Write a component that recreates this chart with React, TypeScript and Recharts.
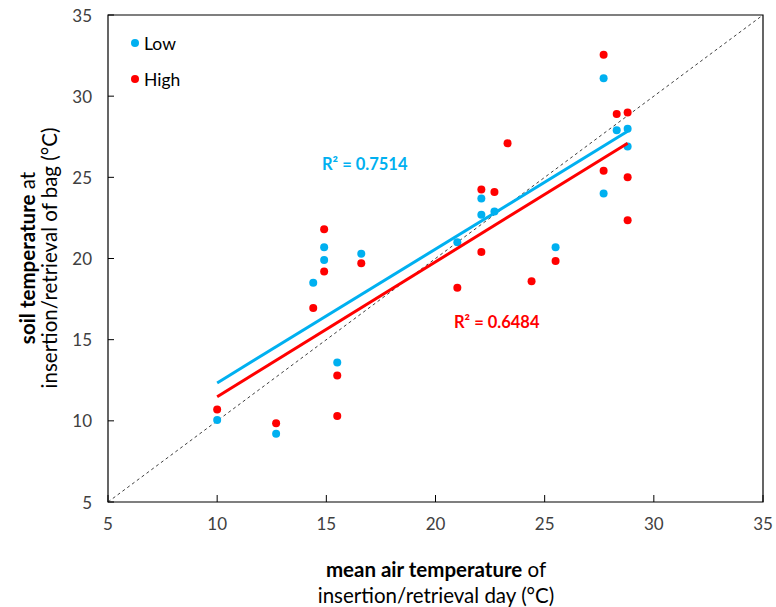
import React from "react";
import { ScatterChart, Scatter, XAxis, YAxis, ReferenceLine, ReferenceArea } from "recharts";

// mean air temperature (x) vs soil temperature (y)
const lowX = [10.0, 12.7, 14.4, 14.9, 14.9, 15.5, 16.6, 21.0, 22.1, 22.1, 22.7, 25.5, 27.7, 27.7, 28.3, 28.8, 28.8];
const lowY = [10.05, 9.2, 18.5, 20.7, 19.9, 13.6, 20.3, 21.0, 23.7, 22.7, 22.9, 20.7, 31.1, 24.0, 27.9, 28.0, 26.9];

const highX = [10.0, 12.7, 14.4, 14.9, 14.9, 15.5, 15.5, 16.6, 21.0, 22.1, 22.1, 22.7, 23.3, 24.4, 25.5, 27.7, 27.7, 28.3, 28.8, 28.8, 28.8];
const highY = [10.7, 9.85, 16.95, 21.8, 19.2, 12.8, 10.3, 19.7, 18.2, 24.25, 20.4, 24.1, 27.1, 18.6, 19.85, 32.55, 25.4, 28.9, 29.0, 25.0, 22.35];

const axisTicks = [5, 10, 15, 20, 25, 30, 35];
const seriesNames = ["Low", "High"];
const r2Labels = ["R² = 0.7514", "R² = 0.6484"];

const BLUE = "#00B0F0";
const RED = "#FF0000";
const FONT = "Lato, 'Open Sans', sans-serif";

const toPoints = (xs: number[], ys: number[]) => xs.map((x, i) => ({ x, y: ys[i] }));

// least squares trend line over the range of the series
function linearFit(xs: number[], ys: number[]) {
  const n = xs.length;
  const mx = xs.reduce((a, b) => a + b, 0) / n;
  const my = ys.reduce((a, b) => a + b, 0) / n;
  let sxx = 0;
  let sxy = 0;
  xs.forEach((x, i) => {
    sxx += (x - mx) * (x - mx);
    sxy += (x - mx) * (ys[i] - my);
  });
  const slope = sxy / sxx;
  const icpt = my - slope * mx;
  const x0 = Math.min(...xs);
  const x1 = Math.max(...xs);
  return [
    { x: x0, y: icpt + slope * x0 },
    { x: x1, y: icpt + slope * x1 },
  ];
}

const lowData = toPoints(lowX, lowY);
const highData = toPoints(highX, highY);
const lowFit = linearFit(lowX, lowY);
const highFit = linearFit(highX, highY);

const YTick = ({ x, y, payload }: any) => (
  <g>
    <line x1={x} x2={x + 6} y1={y} y2={y} stroke="#000" />
    <text x={x - 16} y={y} textAnchor="end" dominantBaseline="central" fontSize={17} fill="#404040" fontFamily={FONT}>
      {payload.value}
    </text>
  </g>
);

const XTick = ({ x, y, payload }: any) => (
  <g>
    <line x1={x} x2={x} y1={y} y2={y - 7} stroke="#000" />
    <text x={x} y={y + 21} textAnchor="middle" dominantBaseline="central" fontSize={17} fill="#404040" fontFamily={FONT}>
      {payload.value}
    </text>
  </g>
);

const dot = (color: string) => (p: any) => <circle cx={p.cx} cy={p.cy} r={4} fill={color} />;
const noDot = () => <g />;

export default function App() {
  return (
    <div style={{ position: "absolute", left: 0, top: 0, width: 776, height: 607, background: "#fff", fontFamily: FONT }}>
      <ScatterChart width={776} height={607} margin={{ top: 15, right: 13, left: 0, bottom: 0 }}>
        <XAxis
          type="number"
          dataKey="x"
          domain={[5, 35]}
          ticks={axisTicks}
          height={105}
          axisLine={false}
          tickLine={false}
          tickSize={0}
          tickMargin={0}
          tick={<XTick />}
        />
        <YAxis
          type="number"
          dataKey="y"
          domain={[5, 35]}
          ticks={axisTicks}
          width={108}
          axisLine={false}
          tickLine={false}
          tickSize={0}
          tickMargin={0}
          tick={<YTick />}
        />
        <ReferenceArea x1={5} x2={35} y1={5} y2={35} fill="none" stroke="#000" strokeWidth={1.2} fillOpacity={0} />
        <Scatter name={seriesNames[0]} data={lowData} shape={dot(BLUE)} isAnimationActive={false} />
        <Scatter name={seriesNames[1]} data={highData} shape={dot(RED)} isAnimationActive={false} />
        <Scatter data={lowFit} line={{ stroke: BLUE, strokeWidth: 3 }} shape={noDot} legendType="none" isAnimationActive={false} />
        <Scatter data={highFit} line={{ stroke: RED, strokeWidth: 3 }} shape={noDot} legendType="none" isAnimationActive={false} />
        <ReferenceLine segment={[{ x: 5, y: 5 }, { x: 35, y: 35 }]} stroke="#404040" strokeDasharray="3 3" strokeWidth={1} />
      </ScatterChart>

      {/* legend */}
      {seriesNames.map((name, i) => (
        <div key={name} style={{ position: "absolute", left: 131, top: 32 + i * 36, height: 22, display: "flex", alignItems: "center", fontSize: 17.5, color: "#000" }}>
          <span style={{ display: "inline-block", width: 8, height: 8, borderRadius: 4, background: i === 0 ? BLUE : RED, marginRight: 5 }} />
          {name}
        </div>
      ))}

      {/* R² annotations */}
      <div style={{ position: "absolute", left: 322, top: 154, fontSize: 16.5, fontWeight: 700, color: BLUE, whiteSpace: "nowrap" }}>{r2Labels[0]}</div>
      <div style={{ position: "absolute", left: 454, top: 312, fontSize: 16.5, fontWeight: 700, color: RED, whiteSpace: "nowrap" }}>{r2Labels[1]}</div>

      {/* y axis title */}
      <div
        style={{
          position: "absolute",
          left: 38,
          top: 258,
          transform: "translate(-50%, -50%) rotate(-90deg)",
          whiteSpace: "nowrap",
          textAlign: "center",
          fontSize: 20.5,
          lineHeight: "22px",
          color: "#000",
        }}
      >
        <div><b>soil temperature</b> at</div>
        <div>insertion/retrieval of bag (°C)</div>
      </div>

      {/* x axis title */}
      <div
        style={{
          position: "absolute",
          left: 436,
          top: 582,
          transform: "translate(-50%, -50%)",
          whiteSpace: "nowrap",
          textAlign: "center",
          fontSize: 20.5,
          lineHeight: "26px",
          color: "#000",
        }}
      >
        <div><b>mean air temperature</b> of</div>
        <div>insertion/retrieval day (°C)</div>
      </div>
    </div>
  );
}
